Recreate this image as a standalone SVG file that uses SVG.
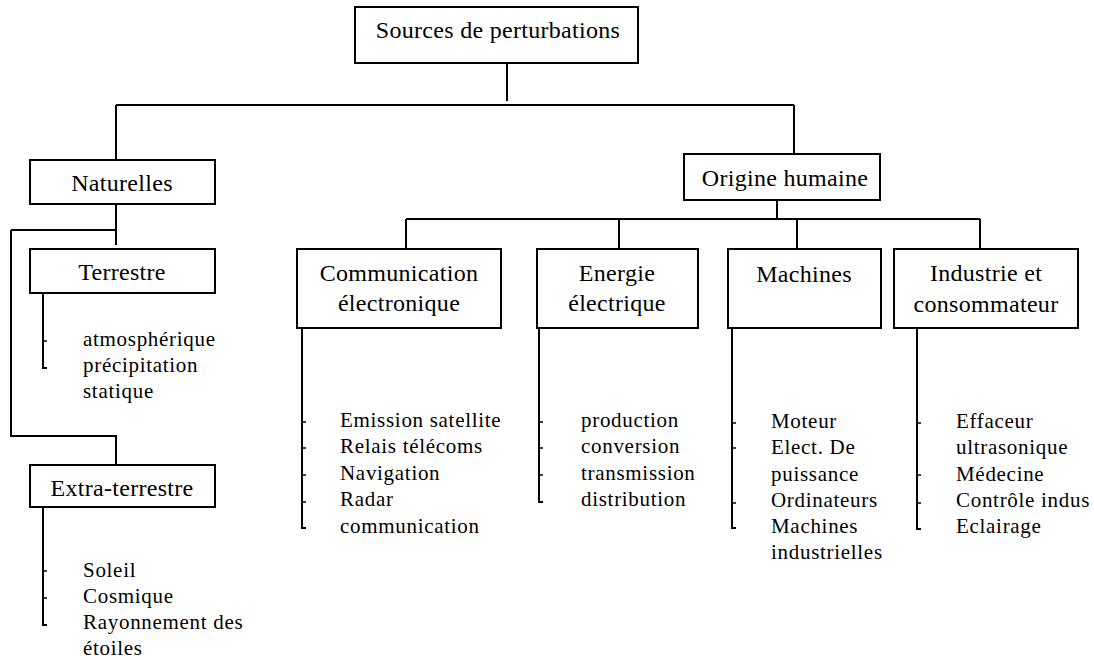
<svg xmlns="http://www.w3.org/2000/svg" width="1094" height="660" viewBox="0 0 1094 660">
<style>
.box{fill:#fff;stroke:#000;stroke-width:2}
.ln{fill:none;stroke:#000;stroke-width:2}
.tk{fill:none;stroke:#000;stroke-width:1.5}
.lbl{font-family:"Liberation Serif","Times New Roman",serif;font-size:24px;letter-spacing:0.3px;text-anchor:middle;fill:#000}
.li{font-family:"Liberation Serif","Times New Roman",serif;font-size:21px;letter-spacing:0.7px;fill:#000}
</style>
<rect width="1094" height="660" fill="#fff"/>
<g id="connectors">
<path class="ln" d="M507 63V101 M116 105H794 M116 105V160 M794 105V154"/>
<path class="ln" d="M116 204V245 M11 230H116 M11 230V436H116V465"/>
<path class="ln" d="M777 200V219 M406 219H980 M406 219V249 M619 219V249 M797 219V249 M980 219V249"/>
<path class="ln" d="M43 293V368H47 M43 507V625H47"/>
<path class="tk" d="M43 341H47 M43 571H47 M43 598H47"/>
<path class="ln" d="M302 328V528H306 M539 328V502H543 M732 328V528H736 M917 328V529H921"/>
<path class="tk" d="M302 422H306 M302 448H306 M302 475H306 M302 502H306 M539 422H543 M539 448H543 M539 475H543 M732 423H736 M732 448H736 M732 503H736 M917 423H921 M917 475H921 M917 503H921"/>
</g>
<g id="n-sources"><rect class="box" x="355" y="7" width="283" height="56"/><text class="lbl" x="498" y="38">Sources de perturbations</text></g>
<g id="n-naturelles"><rect class="box" x="30" y="160" width="185" height="44"/><text class="lbl" x="122" y="191">Naturelles</text></g>
<g id="n-origine"><rect class="box" x="684" y="154" width="196" height="46"/><text class="lbl" x="785" y="186">Origine humaine</text></g>
<g id="n-terrestre"><rect class="box" x="30" y="249" width="185" height="44"/><text class="lbl" x="122" y="280">Terrestre</text>
<text class="li" x="83" y="346">atmosphérique</text><text class="li" x="83" y="372">précipitation</text><text class="li" x="83" y="398">statique</text></g>
<g id="n-extra"><rect class="box" x="30" y="465" width="185" height="42"/><text class="lbl" x="122" y="496">Extra-terrestre</text>
<text class="li" x="83" y="577">Soleil</text><text class="li" x="83" y="603">Cosmique</text><text class="li" x="83" y="629">Rayonnement des</text><text class="li" x="83" y="655">étoiles</text></g>
<g id="n-comm"><rect class="box" x="297" y="249" width="204" height="79"/><text class="lbl" x="399" y="281">Communication</text><text class="lbl" x="399" y="311">électronique</text>
<text class="li" x="340" y="427">Emission satellite</text><text class="li" x="340" y="453">Relais télécoms</text><text class="li" x="340" y="480">Navigation</text><text class="li" x="340" y="506">Radar</text><text class="li" x="340" y="533">communication</text></g>
<g id="n-energie"><rect class="box" x="537" y="249" width="161" height="79"/><text class="lbl" x="617" y="281">Energie</text><text class="lbl" x="617" y="311">électrique</text>
<text class="li" x="581" y="427">production</text><text class="li" x="581" y="453">conversion</text><text class="li" x="581" y="480">transmission</text><text class="li" x="581" y="506">distribution</text></g>
<g id="n-machines"><rect class="box" x="728" y="249" width="153" height="79"/><text class="lbl" x="804" y="282">Machines</text>
<text class="li" x="771" y="428">Moteur</text><text class="li" x="771" y="454">Elect. De</text><text class="li" x="771" y="481">puissance</text><text class="li" x="771" y="507">Ordinateurs</text><text class="li" x="771" y="533">Machines</text><text class="li" x="771" y="559">industrielles</text></g>
<g id="n-industrie"><rect class="box" x="894" y="249" width="184" height="79"/><text class="lbl" x="986" y="281">Industrie et</text><text class="lbl" x="986" y="312">consommateur</text>
<text class="li" x="956" y="428">Effaceur</text><text class="li" x="956" y="454">ultrasonique</text><text class="li" x="956" y="481">Médecine</text><text class="li" x="956" y="507">Contrôle indus</text><text class="li" x="956" y="533">Eclairage</text></g>
</svg>
